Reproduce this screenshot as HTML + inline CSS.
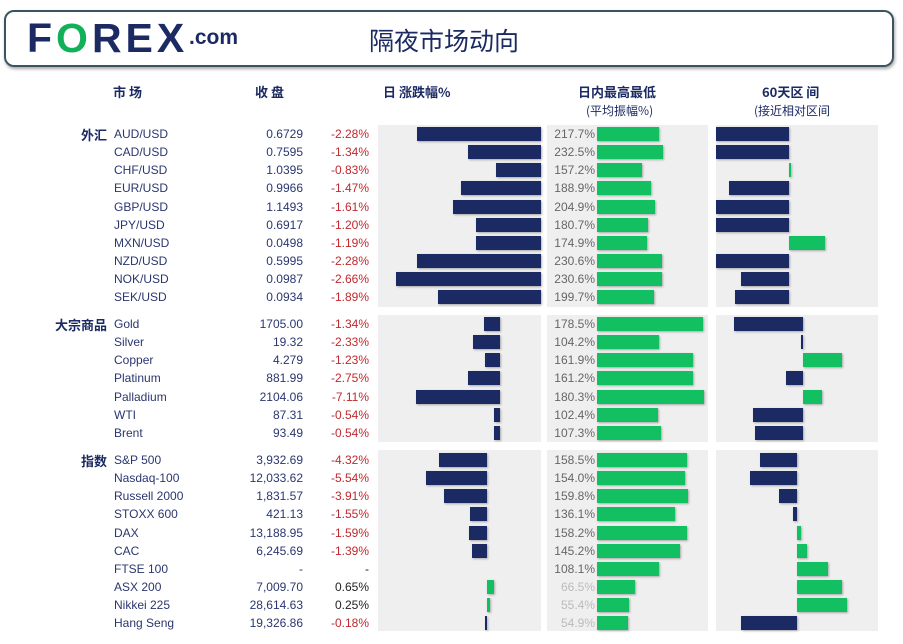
<!DOCTYPE html>
<html><head><meta charset="utf-8">
<style>
html,body{margin:0;padding:0;background:#fff;width:903px;height:644px;overflow:hidden;position:relative;font-family:"Liberation Sans","Noto Sans CJK SC",sans-serif;}
.abs{position:absolute;}
#hdr{left:4px;top:10px;width:890px;height:57px;border:2px solid #3a5560;border-radius:10px;box-shadow:1px 2px 3px rgba(0,0,0,0.35);box-sizing:border-box;}
.logo{left:27px;top:14px;font-size:41px;font-weight:bold;color:#1b2a63;letter-spacing:4px;line-height:48px;}
.com{left:189px;top:26px;font-size:21px;font-weight:bold;color:#1b2a63;}
.title{left:369px;top:22px;font-size:25px;color:#1b2a63;font-family:"Noto Sans CJK SC",sans-serif;}
.ch{font-size:13px;font-weight:bold;color:#1b2a63;font-family:"Noto Sans CJK SC",sans-serif;white-space:nowrap;}
.cs{font-size:12px;color:#1b2a63;font-family:"Noto Sans CJK SC",sans-serif;white-space:nowrap;}
.t{font-size:12px;color:#2a3670;white-space:nowrap;line-height:14px;}
.panel{background:#efefef;}
</style></head><body>
<div id="hdr" class="abs"></div>
<div class="abs logo">F<span style="color:#13b05a">O</span>REX</div>
<div class="abs com">.com</div>
<div class="abs title">隔夜市场动向</div>
<div class="abs ch" style="left:113px;top:82px">市 场</div>
<div class="abs ch" style="left:255px;top:82px">收 盘</div>
<div class="abs ch" style="left:383px;top:82px">日 涨跌幅%</div>
<div class="abs ch" style="left:578px;top:82px">日内最高最低</div>
<div class="abs cs" style="left:586px;top:102px">(平均振幅%)</div>
<div class="abs ch" style="left:762px;top:82px">60天区 间</div>
<div class="abs cs" style="left:754px;top:102px">(接近相对区间</div>
<div id="root"></div>
<script>
const groups=["外汇","大宗商品","指数"];
const names=[["AUD/USD","CAD/USD","CHF/USD","EUR/USD","GBP/USD","JPY/USD","MXN/USD","NZD/USD","NOK/USD","SEK/USD"],["Gold","Silver","Copper","Platinum","Palladium","WTI","Brent"],["S&P 500","Nasdaq-100","Russell 2000","STOXX 600","DAX","CAC","FTSE 100","ASX 200","Nikkei 225","Hang Seng"]];
const closes=[["0.6729","0.7595","1.0395","0.9966","1.1493","0.6917","0.0498","0.5995","0.0987","0.0934"],["1705.00","19.32","4.279","881.99","2104.06","87.31","93.49"],["3,932.69","12,033.62","1,831.57","421.13","13,188.95","6,245.69","-","7,009.70","28,614.63","19,326.86"]];
const changes=[[-2.28,-1.34,-0.83,-1.47,-1.61,-1.20,-1.19,-2.28,-2.66,-1.89],[-1.34,-2.33,-1.23,-2.75,-7.11,-0.54,-0.54],[-4.32,-5.54,-3.91,-1.55,-1.59,-1.39,null,0.65,0.25,-0.18]];
const ranges=[[217.7,232.5,157.2,188.9,204.9,180.7,174.9,230.6,230.6,199.7],[178.5,104.2,161.9,161.2,180.3,102.4,107.3],[158.5,154.0,159.8,136.1,158.2,145.2,108.1,66.5,55.4,54.9]];
const sixty=[[-73,-73,1,-60,-73,-73,36,-73,-48,-54],[-69,-2,39,-17,19,-50,-48],[-37,-47,-18,-4,4,10,31,45,50,-56]];
// layout
const secTop=[125,315,450],secBot=[307,442,631],firstRow=[134,324,460],rowH=18.15;
const chgZero=[541,500,487],chgScale=[54.4,11.8,11.1];
const rngZero=597,rngScale=[0.284,0.594,0.57];
const sixZero=[789,803,797];
const NAVY="#1b2a63",GREEN="#12c062";
const root=document.getElementById('root');
function div(css,txt){const d=document.createElement('div');d.className='abs';d.style.cssText=css;if(txt!==undefined)d.textContent=txt;root.appendChild(d);return d;}
function bar(x0,x1,cy,color){const l=Math.min(x0,x1),w=Math.max(Math.abs(x1-x0),1.5);const d=div(`left:${l}px;top:${cy-7}px;width:${w}px;height:14px;background:${color};box-shadow:1px 1px 2px rgba(0,0,0,0.3)`);return d;}
groups.forEach((g,s)=>{
  let p=div(`left:378px;top:${secTop[s]}px;width:163px;height:${secBot[s]-secTop[s]}px`);p.className+=' panel';
  
  
  p=div(`left:547px;top:${secTop[s]}px;width:161px;height:${secBot[s]-secTop[s]}px`);p.className+=' panel';
  
  
  p=div(`left:716px;top:${secTop[s]}px;width:162px;height:${secBot[s]-secTop[s]}px`);p.className+=' panel';
  
  
  const gl=div(`right:${903-107}px;top:${firstRow[s]-9}px;font-size:13px;font-weight:bold;color:#1b2a63;font-family:"Noto Sans CJK SC",sans-serif;white-space:nowrap`,g);
  
  
  names[s].forEach((n,i)=>{
    const cy=firstRow[s]+i*rowH;
    let t=div(`left:114px;top:${cy-7}px`,n);t.className+=' t';
    
    
    t=div(`right:${903-303}px;top:${cy-7}px`,closes[s][i]);t.className+=' t';
    
    
    const c=changes[s][i];
    t=div(`right:${903-369}px;top:${cy-7}px;color:${c===null?'#222':(c<0?'#c0282d':'#222')}`,c===null?'-':c.toFixed(2)+'%');t.className+=' t';
    
    
    if(c!==null){const b=bar(chgZero[s],chgZero[s]+c*chgScale[s],cy,c<0?NAVY:GREEN);
      
      }
    const r=ranges[s][i];
    t=div(`right:${903-595}px;top:${cy-7}px;color:${r<100?'#bbb':'#666'}`,r.toFixed(1)+'%');t.className+=' t';
    
    
    const rb=bar(rngZero,rngZero+r*rngScale[s],cy,GREEN);
    
    
    const v=sixty[s][i];
    const sb=bar(sixZero[s],sixZero[s]+v,cy,v<0?NAVY:GREEN);
    
    
  });
});
</script>
</body></html>
